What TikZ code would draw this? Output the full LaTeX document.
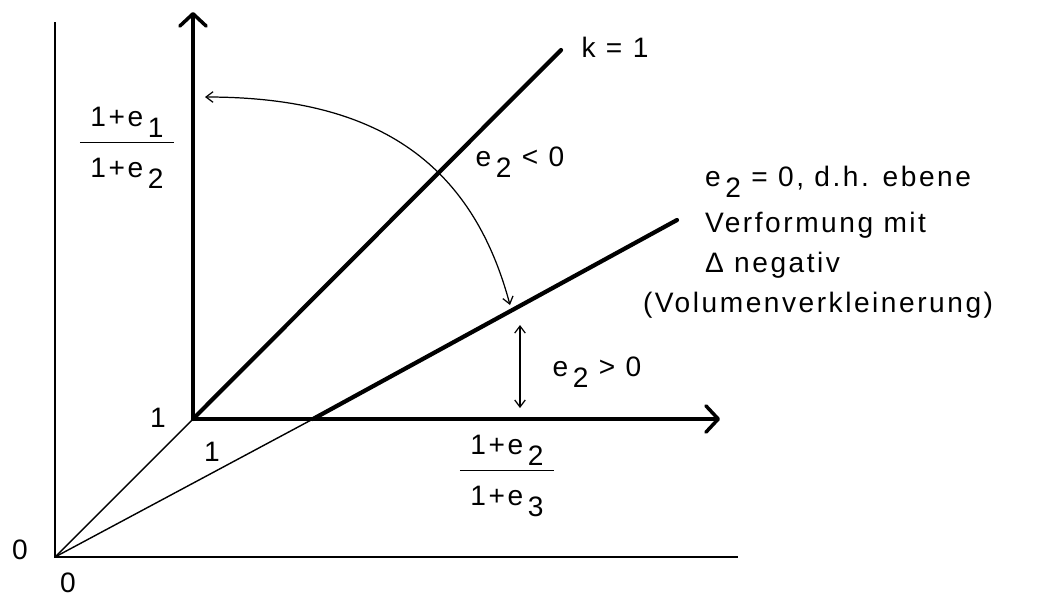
\documentclass[tikz,border=0pt]{standalone}
\usepackage{fontspec}
\setmainfont[LetterSpace=9]{Liberation Sans}
\usetikzlibrary{arrows.meta,positioning}

\newcommand{\low}[1]{\,\raisebox{-0.75ex}{#1}}

\begin{document}
\begin{tikzpicture}[x=0.02cm,y=-0.02cm,
  lbl/.style={font=\fontsize{16}{19}\selectfont,inner sep=1pt},
  frac/.style={lbl,align=center},
  axis/.style={line width=2pt,-{Straight Barb[length=7pt,width=15pt,round]}},
  bold/.style={line width=2.4pt,line cap=round},
  fine/.style={line width=0.8pt},
  small/.style={line width=0.7pt,{Straight Barb[length=4pt,width=6pt]}-{Straight Barb[length=4pt,width=6pt]}}]

\useasboundingbox (0,0) rectangle (1047,600);

% points
\coordinate (O) at (55,557);
\coordinate (otop) at (55,22);
\coordinate (oend) at (738,557);
\coordinate (A) at (193,419);
\coordinate (ytop) at (193,12);
\coordinate (xend) at (720,419);
\coordinate (kend) at (561,50);
\coordinate (P) at (313,419);
\coordinate (eend) at (677,220);
\coordinate (rtop) at (205,97);
\coordinate (rbot) at (510,305);
\coordinate (dtop) at (520,325);
\coordinate (dbot) at (520,408);

% outer axes and rays
\draw[fine] (otop) -- (O) -- (oend);
\draw[fine] (O) -- (A);
\draw[fine] (O) -- (P);

% inner axes
\draw[axis] (A) -- (ytop);
\draw[axis] (A) -- (xend);

% lines
\draw[bold] (A) -- (kend);
\draw[bold] (P) -- (eend);

% arrows
\draw[small] (rtop) to[out=0,in=105,looseness=1.1] (rbot);
\draw[small] (dtop) -- (dbot);

% labels
\node[lbl] (k) at (615,47) {k = 1};
\node[lbl] (neg) at (520,162) {e\low{2} < 0};
\node[lbl] (pos) at (597,372) {e\low{2} > 0};
\node[lbl,anchor=west] (t1) at (703,182) {e\low{2} = 0, d.h. ebene};
\node[lbl,anchor=west] (t2) at (703,225) {Verformung mit};
\node[lbl,anchor=west] (t3) at (703,265) {Δ negativ};
\node[lbl,anchor=west] (t4) at (641,305) {(Volumenverkleinerung)};
\node[lbl] (oney) at (158,418) {1};
\node[lbl] (onex) at (212,452) {1};
\node[lbl] (zy) at (20,550) {0};
\node[lbl] (zx) at (68,583) {0};
\node[frac] (fy) at (127,142) {%
  \renewcommand\arraystretch{1.5}\begin{tabular}{c}1+e\low{1}\\\hline 1+e\low{2}\end{tabular}};
\node[frac] (fx) at (507,470) {%
  \renewcommand\arraystretch{1.5}\begin{tabular}{c}1+e\low{2}\\\hline 1+e\low{3}\end{tabular}};
\end{tikzpicture}
\end{document}
